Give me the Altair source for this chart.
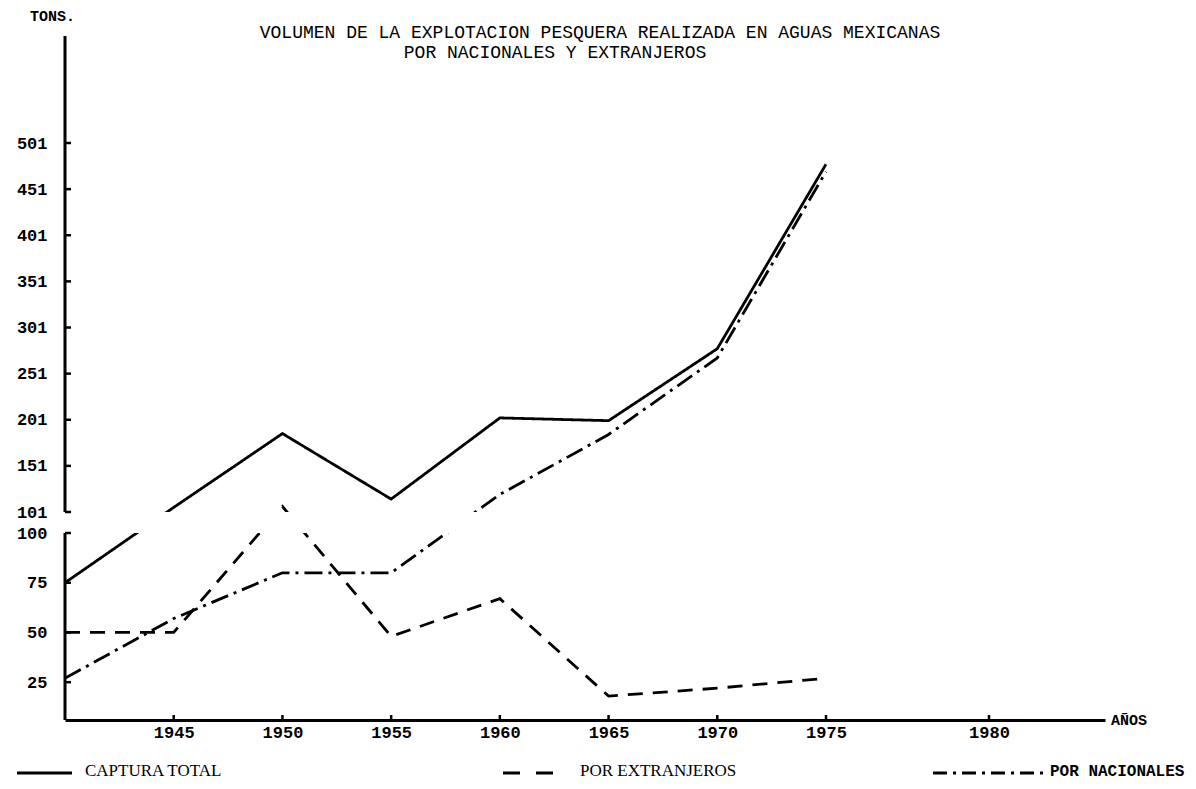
import altair as alt
import pandas as pd

# ---- data ----
years = [1940, 1945, 1950, 1955, 1960, 1965, 1970, 1975]
captura_total = [75, 106, 186, 115, 203, 200, 278, 478]
por_extranjeros = [50, 50, 107, 48, 67, 18, 22, 27]
por_nacionales = [27, 57, 80, 80, 120, 185, 268, 470]

series_names = ["CAPTURA TOTAL", "POR EXTRANJEROS", "POR NACIONALES"]
x_ticks = [1945, 1950, 1955, 1960, 1965, 1970, 1975, 1980]
y_ticks = [25, 50, 75, 100, 101, 151, 201, 251, 301, 351, 401, 451, 501]

rows = []
for name, vals in zip(series_names, [captura_total, por_extranjeros, por_nacionales]):
    for yr, v in zip(years, vals):
        rows.append({"year": yr, "tons": v, "serie": name})
df = pd.DataFrame(rows)

W, H = 1040, 684
MONO = "Liberation Mono"
SERIF = "Liberation Serif"

xscale = alt.Scale(domain=[1940, 1975, 1980, 1985], range=[0, 761, 924, 1040], nice=False, zero=False)
# broken axis: 6..100 on the lower segment, 101..617 on the upper one
yscale = alt.Scale(domain=[6, 100, 101, 617], range=[684, 497, 476, 0], nice=False, zero=False)

xaxis = alt.Axis(values=x_ticks, format="d", grid=False, ticks=False, title=None,
                 domainColor="black", domainWidth=3, labelPadding=4,
                 labelFont=MONO, labelFontSize=17, labelFontWeight="bold",
                 labelColor="black", labelOverlap=False, labelFlush=False)
yaxis = alt.Axis(values=y_ticks, format="d", grid=False, ticks=False, domain=False, title=None,
                 labelPadding=18, labelFont=MONO, labelFontSize=17,
                 labelFontWeight="bold", labelColor="black", labelOverlap=False,
                 labelFlush=False)

X = lambda f: alt.X(f, scale=xscale, axis=xaxis, title=None)
Y = lambda f: alt.Y(f, scale=yscale, axis=yaxis, title=None)
YD = lambda v: alt.Y(datum=v, scale=yscale, axis=yaxis, title=None)

lines = alt.Chart(df).mark_line(color="black", strokeWidth=2.8, strokeCap="butt").encode(
    x=X("year:Q"),
    y=Y("tons:Q"),
    strokeDash=alt.StrokeDash("serie:N", legend=None,
                              scale=alt.Scale(domain=series_names,
                                              range=[[1, 0], [15, 10], [18, 6, 3, 6]])),
    detail="serie:N",
)

one = pd.DataFrame({"a": [0]})

gap = alt.Chart(one).mark_rect(color="white").encode(
    x=alt.value(2), x2=alt.value(W), y=YD(100), y2=alt.Y2(datum=101)
)

yaxis_up = alt.Chart(one).mark_rule(color="black", strokeWidth=3).encode(
    x=alt.value(0), y=YD(101), y2=alt.Y2(datum=617)
)
yaxis_low = alt.Chart(one).mark_rule(color="black", strokeWidth=3).encode(
    x=alt.value(0), y=YD(6), y2=alt.Y2(datum=100)
)

ytick = alt.Chart(pd.DataFrame({"tons": y_ticks})).mark_rule(color="black", strokeWidth=2.5).encode(
    x=alt.value(0), x2=alt.value(6), y=Y("tons:Q")
)
xtick = alt.Chart(pd.DataFrame({"year": x_ticks})).mark_rule(color="black", strokeWidth=2.5).encode(
    x=X("year:Q"), y=alt.value(H), y2=alt.value(H - 5)
)

def txt(s, x, y, font=MONO, size=17, weight="bold", align="left"):
    return alt.Chart(one).mark_text(text=s, font=font, fontSize=size, fontWeight=weight,
                                    align=align, baseline="middle", color="black").encode(
        x=alt.value(x), y=alt.value(y))

def seg(x1, x2, y, dash=None):
    kw = dict(color="black", strokeWidth=3)
    if dash:
        kw["strokeDash"] = dash
    return alt.Chart(one).mark_rule(**kw).encode(x=alt.value(x1), x2=alt.value(x2), y=alt.value(y))

LY = 735
annot = [
    txt("TONS.", -35, -20, size=15),
    txt("VOLUMEN DE LA EXPLOTACION PESQUERA REALIZADA EN AGUAS MEXICANAS", 535, -3,
        size=18, weight="normal", align="center"),
    txt("POR NACIONALES Y EXTRANJEROS", 490, 17, size=18, weight="normal", align="center"),
    txt("AÑOS", W + 6, H, size=15),
    seg(-48, 7, LY + 2),
    txt("CAPTURA  TOTAL", 20, LY, font=SERIF, size=17, weight="normal"),
    seg(438, 488, LY + 2, [17, 16]),
    txt("POR  EXTRANJEROS", 515, LY, font=SERIF, size=17, weight="normal"),
    seg(868, 980, LY + 2, [14, 6, 3, 6]),
    txt("POR NACIONALES", 985, LY, size=16),
]

chart = alt.layer(lines, gap, yaxis_up, yaxis_low, ytick, xtick, *annot).properties(
    width=W, height=H,
    autosize=alt.AutoSizeParams(type="none"),
    padding={"left": 57, "top": 28, "right": 83, "bottom": 60},
    background="white",
).configure_view(stroke=None)

chart.save("out.html", embed_options={"renderer": "svg", "actions": False})
